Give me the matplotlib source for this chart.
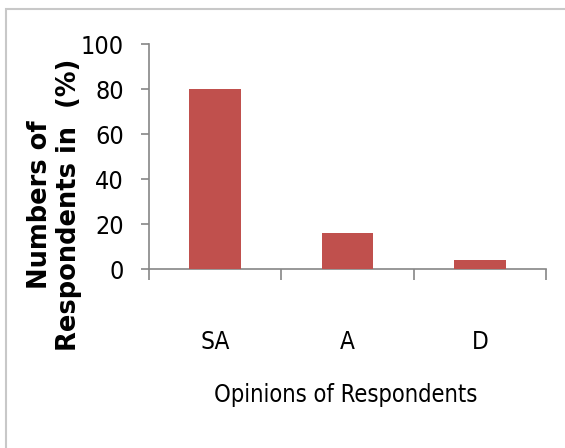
import matplotlib
matplotlib.use("Agg")
import matplotlib.pyplot as plt
from matplotlib.patches import Rectangle

categories = ["SA", "A", "D"]
percent = [80, 16, 4]

bar_color = "#C0504D"
axis_color = "#868686"
narrow = dict(family="DejaVu Sans", stretch="condensed")

fig = plt.figure(figsize=(5.65, 4.48), dpi=100)
ax = fig.add_axes([149/565, 1 - 269/448, (546-149)/565, (269-44)/448])

# outer chart frame (runs off the right and bottom edge)
fig.patches.append(Rectangle((6/565, -0.05), 1.2, 1 - 9/448 + 0.05,
                             transform=fig.transFigure, fill=False,
                             edgecolor="#C8C8C8", linewidth=1.5))

x = list(range(len(categories)))
ax.bar(x, percent, width=0.39, color=bar_color, zorder=3)

ax.set_xlim(-0.5, len(categories) - 0.5)
ax.set_ylim(0, 100)
ax.set_yticks(range(0, 101, 20))

ax.set_xticks(x)
ax.set_xticklabels(categories, fontsize=17.5, **narrow)
ax.set_xticks([i - 0.5 for i in range(len(categories) + 1)], minor=True)
ax.tick_params(axis="x", which="major", length=0, pad=44)
ax.tick_params(axis="x", which="minor", length=8, width=1.2, color=axis_color, direction="out")
ax.tick_params(axis="y", length=6, width=1.2, color=axis_color, pad=12)
for lab in ax.get_yticklabels():
    lab.set_fontsize(18)
    lab.set_family(narrow["family"])
    lab.set_stretch(narrow["stretch"])

for s in ["top", "right"]:
    ax.spines[s].set_visible(False)
for s in ["left", "bottom"]:
    ax.spines[s].set_color(axis_color)
    ax.spines[s].set_linewidth(1.2)

fig.text(346/565, 1 - 395/448, "Opinions of Respondents", ha="center", va="center",
         fontsize=17, **narrow)
fig.text(55/565, 1 - 205/448, "Numbers of\nRespondents in  (%)", rotation=90,
         ha="center", va="center", fontsize=18.5, fontweight="bold",
         linespacing=1.15, multialignment="center")

fig.savefig("out.png", dpi=100)
